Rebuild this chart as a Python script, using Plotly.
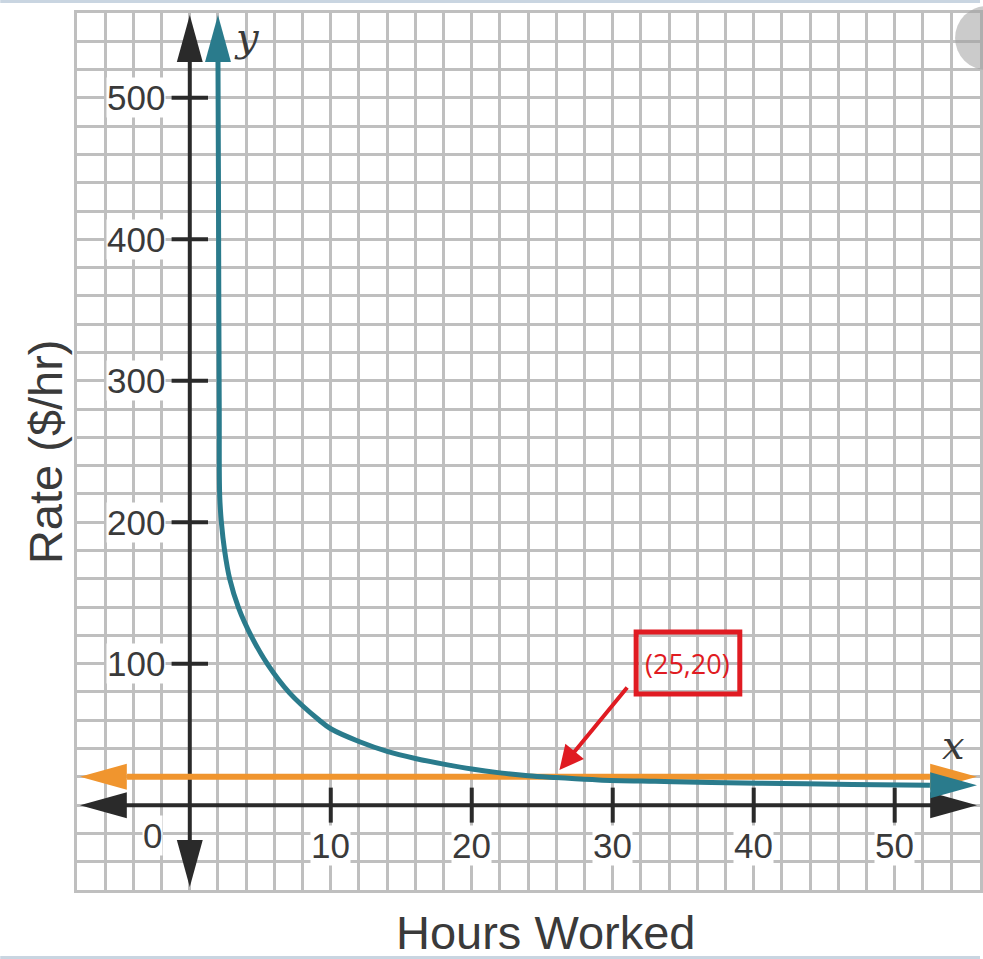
import plotly.graph_objects as go

# ---------------- data ----------------
hours = [2.0, 2.03, 2.06, 2.09, 2.12, 2.24, 2.47, 2.83, 3.46, 4.36, 5.51, 7.07,
         9.19, 10, 12, 14, 16, 18, 20, 22, 24, 26, 29, 33, 37, 42, 47, 52.5]
rate = [526, 450, 350, 280, 219, 200, 180, 160, 139.5, 119.5, 99.7, 79.4,
        60, 54, 45, 38, 33, 29, 25.5, 22.8, 20.8, 19.5, 17.8, 16.8, 16, 15.3, 14.6, 14]
flat_rate = 20
flat_hours = [-4.45, 52.5]
x_tick_vals = [10, 20, 30, 40, 50]
x_tick_text = ["10", "20", "30", "40", "50"]
y_tick_vals = [100, 200, 300, 400, 500]
y_tick_text = ["100", "200", "300", "400", "500"]
point_label = "(25,20)"

# ---------------- geometry ----------------
W, H = 983, 959
ML, MR, MT, MB = 77, 0, 13, 69
XR = [-8, 56.05]
YR = [-60, 560]
PW, PH = W - ML - MR, H - MT - MB
PX_PER_X = PW / (XR[1] - XR[0])
PX_PER_Y = PH / (YR[1] - YR[0])


def pxx(px):  # pixel -> paper x
    return (px - ML) / PW


def pxy(py):  # pixel -> paper y
    return (H - MB - py) / PH


def dx(px):  # pixel x -> data x
    return XR[0] + (px - ML) / PX_PER_X


def dy(py):  # pixel y -> data y
    return YR[0] + (H - MB - py) / PX_PER_Y


def head(tip_x, tip_y, direction, color, length_px=47, half_px=13):
    if direction in ("right", "left"):
        s = -1 if direction == "right" else 1
        bx = tip_x + s * length_px / PX_PER_X
        hw = half_px / PX_PER_Y
        xs = [tip_x, bx, bx, tip_x]
        ys = [tip_y, tip_y + hw, tip_y - hw, tip_y]
    else:
        s = -1 if direction == "up" else 1
        by = tip_y + s * length_px / PX_PER_Y
        hw = half_px / PX_PER_X
        xs = [tip_x, tip_x + hw, tip_x - hw, tip_x]
        ys = [tip_y, by, by, tip_y]
    return go.Scatter(x=xs, y=ys, mode="lines", fill="toself", fillcolor=color,
                      line=dict(width=0, color=color), hoverinfo="skip")


BLACK = "#2a2a2a"
ORANGE = "#f0952e"
TEAL = "#2a7b8c"
GRID = "#bfbfbf"
TXT = "#3a3a3a"
RED = "#e01b22"
SANS = "Liberation Sans, Arial"

fig = go.Figure()

# axes with arrowheads
x_tip_l, x_tip_r = dx(80), dx(980)
y_tip_t, y_tip_b = dy(15), dy(887)
fig.add_trace(go.Scatter(x=[x_tip_l + 2, x_tip_r - 2], y=[0, 0], mode="lines",
                         line=dict(color=BLACK, width=4), hoverinfo="skip"))
fig.add_trace(go.Scatter(x=[0, 0], y=[y_tip_b + 20, y_tip_t - 20], mode="lines",
                         line=dict(color=BLACK, width=4), hoverinfo="skip"))
fig.add_trace(head(x_tip_l, 0, "left", BLACK))
fig.add_trace(head(x_tip_r, 0, "right", BLACK))
fig.add_trace(head(0, y_tip_t, "up", BLACK))
fig.add_trace(head(0, y_tip_b, "down", BLACK))

# tick marks
fig.add_trace(go.Scatter(x=x_tick_vals, y=[0] * len(x_tick_vals), mode="markers",
                         marker=dict(symbol="line-ns", size=25,
                                     line=dict(color=BLACK, width=4)), hoverinfo="skip"))
fig.add_trace(go.Scatter(x=[0] * len(y_tick_vals), y=y_tick_vals, mode="markers",
                         marker=dict(symbol="line-ew", size=26,
                                     line=dict(color=BLACK, width=4)), hoverinfo="skip"))

# orange flat line
fig.add_trace(go.Scatter(x=flat_hours, y=[flat_rate] * 2, mode="lines",
                         line=dict(color=ORANGE, width=6), hoverinfo="skip"))
fig.add_trace(head(dx(80), flat_rate, "left", ORANGE))
fig.add_trace(head(dx(980), flat_rate, "right", ORANGE))

# teal curve
fig.add_trace(go.Scatter(x=hours, y=rate, mode="lines", line_shape="spline",
                         line=dict(color=TEAL, width=5), hoverinfo="skip"))
fig.add_trace(head(hours[0], dy(15), "up", TEAL))
fig.add_trace(head(dx(980), rate[-1], "right", TEAL))

C = dict(xanchor="center", yanchor="middle", showarrow=False)
annotations = []
for v, t in zip(x_tick_vals, x_tick_text):
    annotations.append(dict(x=v, y=dy(845), text=t, **C,
                            font=dict(size=35, color=TXT, family=SANS),
                            bgcolor="white", borderpad=0))
for v, t in zip(y_tick_vals, y_tick_text):
    annotations.append(dict(x=dx(166), y=v, text=t, showarrow=False, xanchor="right",
                            yanchor="middle",
                            font=dict(size=35, color=TXT, family=SANS),
                            bgcolor="white", borderpad=0))
annotations.append(dict(x=dx(153), y=dy(835), text="0", **C,
                        font=dict(size=35, color=TXT, family=SANS),
                        bgcolor="white", borderpad=0))
annotations.append(dict(xref="paper", yref="paper", x=pxx(548), y=pxy(932),
                        text="Hours Worked", **C,
                        font=dict(size=47, color=TXT, family=SANS)))
annotations.append(dict(xref="paper", yref="paper", x=pxx(45), y=pxy(452),
                        text="Rate ($/hr)", textangle=-90, **C,
                        font=dict(size=47, color=TXT, family=SANS)))
annotations.append(dict(xref="paper", yref="paper", x=pxx(248), y=pxy(37), text="<i>y</i>",
                        **C, font=dict(size=40, color=TXT, family="DejaVu Serif")))
annotations.append(dict(xref="paper", yref="paper", x=pxx(956), y=pxy(745), text="<i>x</i>",
                        **C, font=dict(size=40, color=TXT, family="DejaVu Serif")))
# red callout
annotations.append(dict(xref="paper", yref="paper", x=pxx(690), y=pxy(663), text=point_label,
                        **C, font=dict(size=27, color=RED, family="Open Sans")))
annotations.append(dict(x=dx(561), y=dy(770), text="", showarrow=True,
                        ax=69, ay=-84, arrowhead=2, arrowsize=1.2, arrowwidth=4,
                        arrowcolor=RED))

shapes = [
    dict(type="rect", xref="paper", yref="paper", x0=pxx(638), x1=pxx(742),
         y0=pxy(694), y1=pxy(632), line=dict(color=RED, width=5)),
    dict(type="circle", xref="paper", yref="paper", x0=pxx(958), x1=pxx(1022),
         y0=pxy(70), y1=pxy(6), fillcolor="rgba(160,160,160,0.55)", line=dict(width=0)),
    dict(type="rect", xref="paper", yref="paper", x0=pxx(0), x1=pxx(983),
         y0=pxy(3), y1=pxy(0), fillcolor="#c9d5e1", line=dict(width=0)),
    dict(type="rect", xref="paper", yref="paper", x0=pxx(0), x1=pxx(983),
         y0=pxy(959), y1=pxy(956), fillcolor="#c9d5e1", line=dict(width=0)),
]

fig.update_layout(
    width=W, height=H,
    margin=dict(l=ML, r=MR, t=MT, b=MB, pad=0),
    paper_bgcolor="white", plot_bgcolor="white",
    showlegend=False,
    xaxis=dict(range=XR, tick0=0, dtick=2, showgrid=True, gridcolor=GRID, gridwidth=2.5,
               zeroline=False, showticklabels=False, ticks="", showline=True, mirror=True,
               linecolor=GRID, linewidth=2.5, fixedrange=True),
    yaxis=dict(range=YR, tick0=0, dtick=20, showgrid=True, gridcolor=GRID, gridwidth=2.5,
               zeroline=False, showticklabels=False, ticks="", showline=True, mirror=True,
               linecolor=GRID, linewidth=2.5, fixedrange=True),
    annotations=annotations,
    shapes=shapes,
)

fig.write_html(
    "out.html",
    config={"displayModeBar": False},
    post_script="document.body.style.margin='0';document.body.style.overflow='hidden';",
)
